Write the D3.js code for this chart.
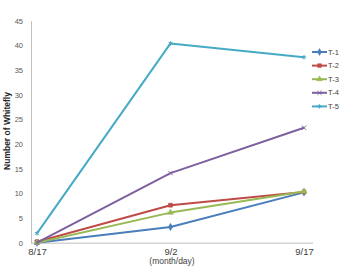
<!DOCTYPE html>
<html>
<head>
<meta charset="utf-8">
<script src="https://cdn.jsdelivr.net/npm/d3@7"></script>
<style>
  body { margin: 0; background: #fff; }
  svg { font-family: "Liberation Sans", Arial, sans-serif; }
</style>
</head>
<body>
<div id="chart"></div>
<script>
var dates = ["8/17", "9/2", "9/17"];
var seriesNames = ["T-1", "T-2", "T-3", "T-4", "T-5"];
var t1 = [0, 3.2, 10.2];
var t2 = [0.2, 7.6, 10.3];
var t3 = [0, 6.1, 10.4];
var t4 = [0, 14.1, 23.3];
var t5 = [1.9, 40.4, 37.6];
var yTicks = [0, 5, 10, 15, 20, 25, 30, 35, 40, 45];

var colors = ["#4a7ebb", "#be4b48", "#98b954", "#7d60a0", "#46aac5"];
var symbols = [d3.symbolDiamond, d3.symbolSquare, d3.symbolTriangle, d3.symbolX, d3.symbolAsterisk];
var allSeries = [t1, t2, t3, t4, t5];

var width = 339, height = 267;

var svg = d3.select("#chart")
    .append("svg")
    .attr("width", width)
    .attr("height", height);

var x = d3.scalePoint()
    .domain(dates)
    .range([37, 304]);

var y = d3.scaleLinear()
    .domain([0, 45])
    .range([242.7, 20.7]);

// y axis
var yAxis = svg.append("g")
    .attr("transform", "translate(31,0)")
    .call(d3.axisLeft(y).tickValues(yTicks).tickSize(0).tickPadding(8));
yAxis.select(".domain").attr("stroke", "#bfbfbf");
yAxis.selectAll("text").attr("fill", "#595959").attr("font-size", 7.5);

// x axis
var xAxis = svg.append("g")
    .attr("transform", "translate(0,242.7)")
    .call(d3.axisBottom(x).tickSize(0).tickPadding(6));
xAxis.select(".domain").attr("stroke", "#bfbfbf").attr("d", "M31,0.5H313");
xAxis.selectAll("text").attr("fill", "#404040").attr("font-size", 9.5);

svg.append("text")
    .attr("transform", "translate(10,131) rotate(-90)")
    .attr("text-anchor", "middle")
    .attr("font-weight", "bold")
    .attr("font-size", 8.5)
    .attr("fill", "#262626")
    .text("Number of Whitefly");

svg.append("text")
    .attr("x", 172)
    .attr("y", 264)
    .attr("text-anchor", "middle")
    .attr("font-size", 8.5)
    .attr("fill", "#404040")
    .text("(month/day)");

var line = d3.line()
    .x(function(d, i) { return x(dates[i]); })
    .y(function(d) { return y(d); });

allSeries.forEach(function(s, k) {
    svg.append("path")
        .datum(s)
        .attr("fill", "none")
        .attr("stroke", colors[k])
        .attr("stroke-width", 2)
        .attr("stroke-linejoin", "round")
        .attr("d", line);

    svg.selectAll(".pt" + k)
        .data(s)
      .enter().append("path")
        .attr("class", "pt" + k)
        .attr("transform", function(d, i) { return "translate(" + x(dates[i]) + "," + y(d) + ")"; })
        .attr("d", d3.symbol().type(symbols[k]).size(k >= 3 ? 14 : 16))
        .attr("fill", k >= 3 ? "none" : colors[k])
        .attr("stroke", colors[k])
        .attr("stroke-width", k >= 3 ? 1 : 0.5);
});

// legend
var legend = svg.selectAll(".legend")
    .data(seriesNames)
  .enter().append("g")
    .attr("class", "legend")
    .attr("transform", function(d, i) { return "translate(312," + (52 + i * 13.6) + ")"; });

legend.append("line")
    .attr("x1", 0).attr("x2", 15)
    .attr("stroke", function(d, i) { return colors[i]; })
    .attr("stroke-width", 2);

legend.append("path")
    .attr("transform", "translate(7.5,0)")
    .attr("d", function(d, i) { return d3.symbol().type(symbols[i]).size(i >= 3 ? 12 : 14)(); })
    .attr("fill", function(d, i) { return i >= 3 ? "none" : colors[i]; })
    .attr("stroke", function(d, i) { return colors[i]; })
    .attr("stroke-width", function(d, i) { return i >= 3 ? 1 : 0.5; });

legend.append("text")
    .attr("x", 16)
    .attr("dy", "0.35em")
    .attr("font-size", 7.5)
    .attr("fill", "#404040")
    .text(function(d) { return d; });
</script>
</body>
</html>
